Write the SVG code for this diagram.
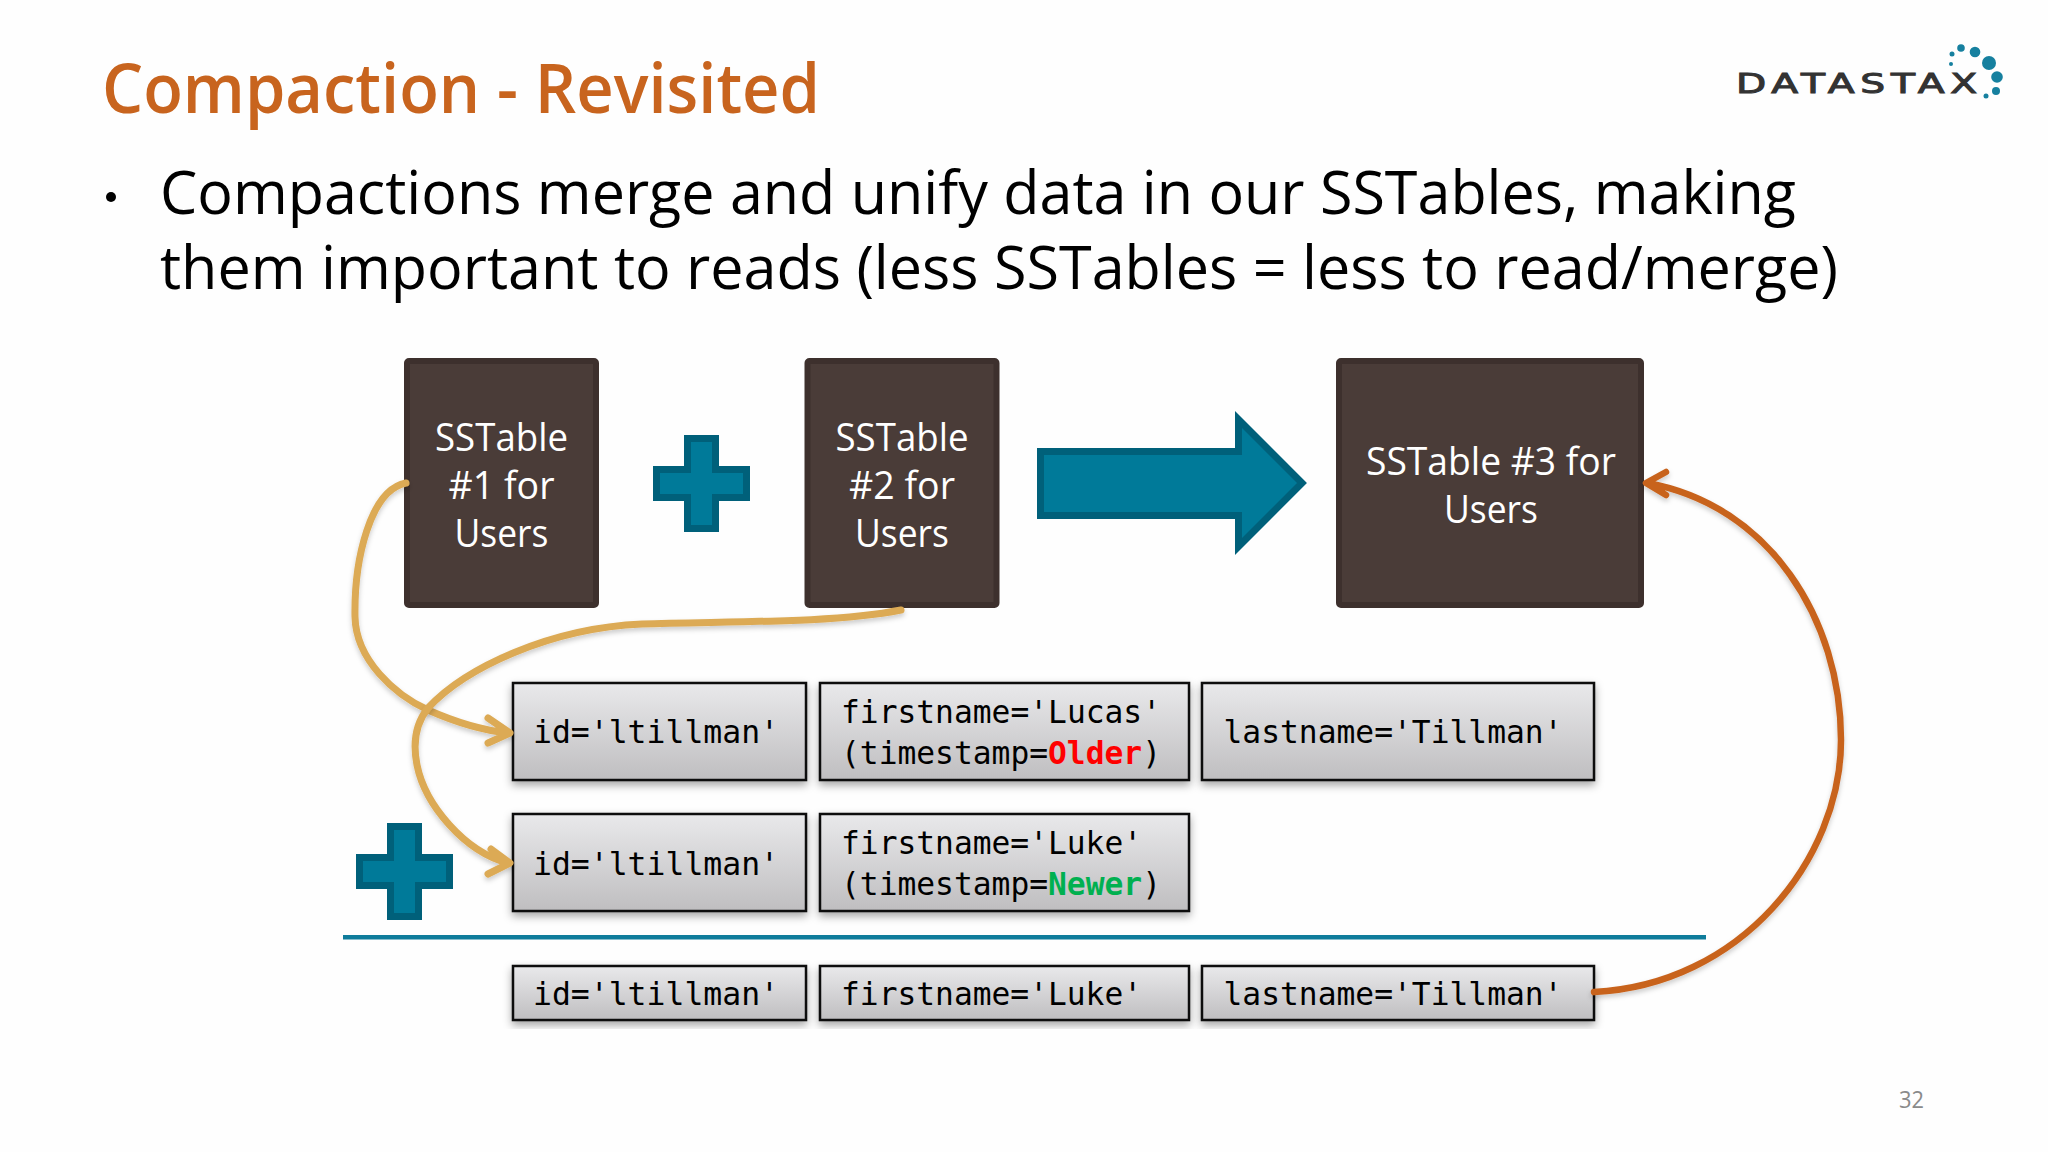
<svg xmlns="http://www.w3.org/2000/svg" width="2048" height="1152" viewBox="0 0 2048 1152">
<style>
.title{font-family:"Open Sans","Noto Sans",sans-serif;font-size:68px;font-weight:600;fill:#c8641e}
.body{font-family:"Open Sans","Noto Sans",sans-serif;font-size:61px;fill:#000}
.tbl{fill:#4a3c38;stroke:#3d302d;stroke-width:6}
.lbl{font-family:"Open Sans","Noto Sans",sans-serif;font-size:39px;fill:#fff;text-anchor:middle}
.teal{fill:#007a99;stroke:#00607a;stroke-width:7;stroke-miterlimit:10}
.fld{fill:url(#g);stroke:#111;stroke-width:2.5;filter:url(#s)}
.m{font-family:"DejaVu Sans Mono","Liberation Mono",monospace;font-size:32px;fill:#000}
.gold{fill:none;stroke:#dcaa55;stroke-width:7;stroke-linecap:round;stroke-linejoin:round;filter:url(#t)}
.or{fill:none;stroke:#c8641e;stroke-width:6.500;stroke-linecap:round;stroke-linejoin:round;filter:url(#t)}
.dot{fill:#16809f}
</style>
<defs>
<linearGradient id="g" x1="0" y1="0" x2="0" y2="1"><stop offset="0" stop-color="#e9e9eb"/><stop offset="1" stop-color="#bfbec0"/></linearGradient>
<filter id="s" x="-5%" y="-10%" width="110%" height="125%"><feDropShadow dx="0" dy="4" stdDeviation="4" flood-color="#000" flood-opacity=".35"/></filter>
<filter id="t" x="-10%" y="-10%" width="120%" height="120%"><feDropShadow dx="0" dy="3" stdDeviation="2.5" flood-color="#000" flood-opacity=".2"/></filter>
</defs>
<rect width="2048" height="1152" fill="#fefefe"/>
<text class="title" x="102" y="113" textLength="718" lengthAdjust="spacingAndGlyphs">Compaction - Revisited</text>
<circle cx="111" cy="197" r="5" fill="#000"/>
<text class="body" x="160" y="214" textLength="1636" lengthAdjust="spacingAndGlyphs">Compactions merge and unify data in our SSTables, making</text>
<text class="body" x="160" y="289" textLength="1678" lengthAdjust="spacingAndGlyphs">them important to reads (less SSTables = less to read/merge)</text>
<g id="logo">
<text x="1736" y="93" font-family="'DejaVu Sans','Liberation Sans',sans-serif" font-size="27" letter-spacing="4" fill="#333" stroke="#333" stroke-width="1" textLength="247" lengthAdjust="spacingAndGlyphs">DATASTAX</text>
<circle class="dot" cx="1952" cy="54" r="2.5"/><circle class="dot" cx="1961" cy="48" r="3.8"/><circle class="dot" cx="1975" cy="52" r="5.3"/><circle class="dot" cx="1989" cy="63" r="7"/><circle class="dot" cx="1997" cy="77" r="5.8"/><circle class="dot" cx="1996" cy="91" r="4"/><circle class="dot" cx="1986" cy="96" r="2.5"/><circle class="dot" cx="1951" cy="64" r="2"/>
</g>
<g id="sstable1"><rect class="tbl" x="407" y="361" width="189" height="244" rx="2"/><text class="lbl" x="501.5" y="451" textLength="133" lengthAdjust="spacingAndGlyphs">SSTable</text><text class="lbl" x="501.5" y="499" textLength="106" lengthAdjust="spacingAndGlyphs">#1 for</text><text class="lbl" x="501.5" y="547" textLength="94" lengthAdjust="spacingAndGlyphs">Users</text></g>
<g id="sstable2"><rect class="tbl" x="807.500" y="361" width="189" height="244" rx="2"/><text class="lbl" x="902" y="451" textLength="133" lengthAdjust="spacingAndGlyphs">SSTable</text><text class="lbl" x="902" y="499" textLength="106" lengthAdjust="spacingAndGlyphs">#2 for</text><text class="lbl" x="902" y="547" textLength="94" lengthAdjust="spacingAndGlyphs">Users</text></g>
<g id="sstable3"><rect class="tbl" x="1339" y="361" width="302" height="244" rx="2"/><text class="lbl" x="1491" y="475" textLength="250" lengthAdjust="spacingAndGlyphs">SSTable #3 for</text><text class="lbl" x="1491" y="523" textLength="94" lengthAdjust="spacingAndGlyphs">Users</text></g>
<g id="plus1"><path class="teal" d="M687.500 438.500h28v31h31v28h-31v31h-28v-31h-31v-28h31z"/></g>
<g id="bigarrow"><path class="teal" d="M1040.500 451.500H1238.500V419.500L1302 483L1238.500 546.500V515.500H1040.500z"/></g>
<g id="plus2"><path class="teal" d="M390.500 826.500h28v31h31v28h-31v31h-28v-31h-31v-28h31z"/></g>
<g id="r1a"><rect class="fld" x="513" y="683" width="293" height="97"/><text class="m" x="533" y="743" textLength="246" lengthAdjust="spacingAndGlyphs">id='ltillman'</text></g>
<g id="r1b"><rect class="fld" x="820" y="683" width="369" height="97"/><text class="m" x="841" y="723" textLength="320" lengthAdjust="spacingAndGlyphs">firstname='Lucas'</text><text class="m" x="841" y="764" textLength="320" lengthAdjust="spacingAndGlyphs">(timestamp=<tspan fill="#ff0000" font-weight="bold">Older</tspan>)</text></g>
<g id="r1c"><rect class="fld" x="1202" y="683" width="392" height="97"/><text class="m" x="1223.500" y="743" textLength="339" lengthAdjust="spacingAndGlyphs">lastname='Tillman'</text></g>
<g id="r2a"><rect class="fld" x="513" y="814" width="293" height="97"/><text class="m" x="533" y="875" textLength="246" lengthAdjust="spacingAndGlyphs">id='ltillman'</text></g>
<g id="r2b"><rect class="fld" x="820" y="814" width="369" height="97"/><text class="m" x="841" y="854" textLength="301" lengthAdjust="spacingAndGlyphs">firstname='Luke'</text><text class="m" x="841" y="895" textLength="320" lengthAdjust="spacingAndGlyphs">(timestamp=<tspan fill="#00b050" font-weight="bold">Newer</tspan>)</text></g>
<rect id="rule" x="343" y="935" width="1363" height="4.500" fill="#0f7c9b"/>
<g id="r3a"><rect class="fld" x="513" y="966" width="293" height="54"/><text class="m" x="533" y="1005" textLength="246" lengthAdjust="spacingAndGlyphs">id='ltillman'</text></g>
<g id="r3b"><rect class="fld" x="820" y="966" width="369" height="54"/><text class="m" x="841" y="1005" textLength="301" lengthAdjust="spacingAndGlyphs">firstname='Luke'</text></g>
<g id="r3c"><rect class="fld" x="1202" y="966" width="392" height="54"/><text class="m" x="1223.500" y="1005" textLength="339" lengthAdjust="spacingAndGlyphs">lastname='Tillman'</text></g>
<g id="connectors">
<path class="gold" d="M406 483C370 490 354 560 355 617C356 660 395 695 428 710C455 722 480 730 508 733M488 718L510 733L488 743"/>
<path class="gold" d="M901 610C830 624 720 621 642 624C550 628 465 668 428 708C412 728 414 750 417 765C425 805 465 852 508 863M491 849L510 863L488 874"/>
<path class="or" d="M1594 992C1740 985 1841 860 1841 740C1841 620 1770 505 1647 483M1666 472L1646 483L1666 495"/>
</g>
<text x="1899" y="1108" font-family="'Open Sans','Noto Sans',sans-serif" font-size="24" fill="#8a8a8a" textLength="25" lengthAdjust="spacingAndGlyphs">32</text>
</svg>
